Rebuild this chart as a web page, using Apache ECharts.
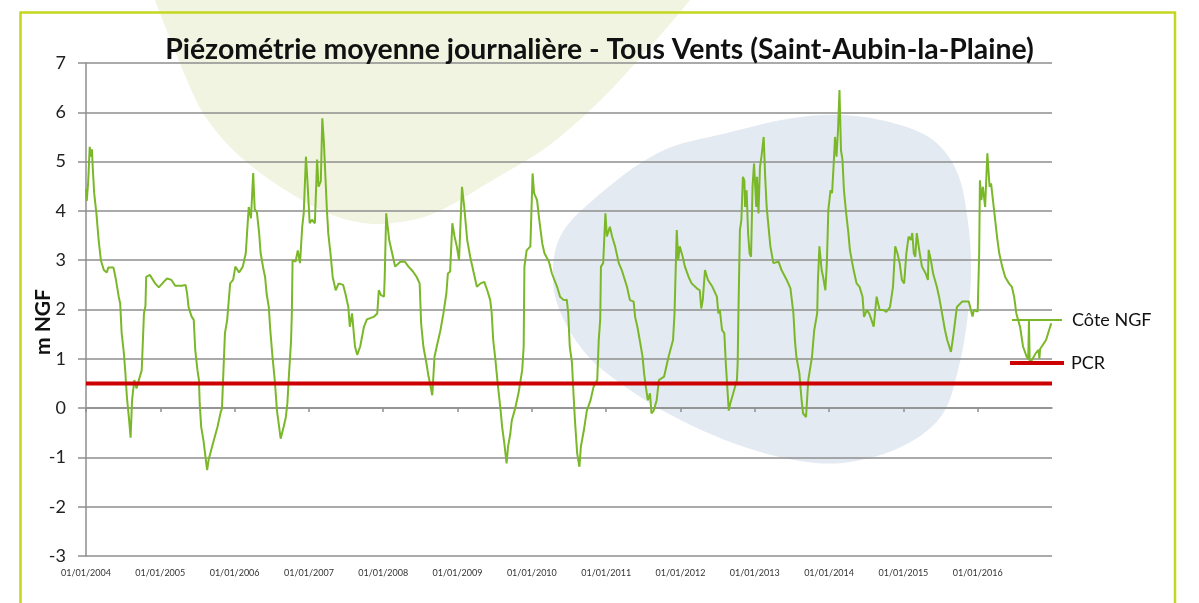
<!DOCTYPE html>
<html>
<head>
<meta charset="utf-8">
<script src="https://cdn.jsdelivr.net/npm/echarts@6/dist/echarts.min.js"></script>
<style>
  html, body { margin: 0; padding: 0; background: #fff; }
  #chart { width: 1199px; height: 603px; }
</style>
</head>
<body>
<div id="chart"></div>
<script>
// time as decimal years
const t = [
  2004.00, 2004.01, 2004.03, 2004.05, 2004.07, 2004.08, 2004.09, 2004.11, 2004.14, 2004.17,
  2004.20, 2004.24, 2004.28, 2004.30, 2004.37, 2004.40, 2004.44, 2004.46, 2004.48, 2004.51,
  2004.53, 2004.55, 2004.58, 2004.60, 2004.62, 2004.65, 2004.68, 2004.71, 2004.75, 2004.78,
  2004.80, 2004.81, 2004.83, 2004.86, 2004.93, 2004.98, 2005.04, 2005.09, 2005.15, 2005.20,
  2005.29, 2005.34, 2005.36, 2005.38, 2005.42, 2005.45, 2005.47, 2005.50, 2005.52, 2005.53,
  2005.55, 2005.58, 2005.63, 2005.65, 2005.72, 2005.77, 2005.81, 2005.83, 2005.85, 2005.87,
  2005.90, 2005.94, 2005.98, 2006.01, 2006.06, 2006.11, 2006.15, 2006.17, 2006.19, 2006.22,
  2006.25, 2006.27, 2006.30, 2006.33, 2006.35, 2006.39, 2006.41, 2006.43, 2006.46, 2006.48,
  2006.51, 2006.54, 2006.57, 2006.62, 2006.66, 2006.69, 2006.71, 2006.73, 2006.76, 2006.77,
  2006.78, 2006.82, 2006.85, 2006.88, 2006.91, 2006.93, 2006.96, 2006.98, 2007.01, 2007.04,
  2007.08, 2007.11, 2007.13, 2007.16, 2007.18, 2007.20, 2007.22, 2007.24, 2007.26, 2007.29,
  2007.32, 2007.36, 2007.40, 2007.46, 2007.49, 2007.53, 2007.55, 2007.58, 2007.62, 2007.65,
  2007.69, 2007.74, 2007.78, 2007.87, 2007.92, 2007.94, 2007.97, 2008.01, 2008.02, 2008.04,
  2008.08, 2008.12, 2008.16, 2008.23, 2008.29, 2008.34, 2008.40, 2008.45, 2008.49, 2008.51,
  2008.54, 2008.58, 2008.61, 2008.63, 2008.66, 2008.69, 2008.72, 2008.77, 2008.81, 2008.85,
  2008.87, 2008.90, 2008.93, 2008.96, 2008.99, 2009.02, 2009.06, 2009.09, 2009.13, 2009.17,
  2009.22, 2009.26, 2009.31, 2009.36, 2009.40, 2009.44, 2009.46, 2009.48, 2009.51, 2009.54,
  2009.58, 2009.60, 2009.63, 2009.66, 2009.68, 2009.71, 2009.73, 2009.78, 2009.82, 2009.87,
  2009.89, 2009.90, 2009.93, 2009.98, 2010.01, 2010.03, 2010.07, 2010.10, 2010.14, 2010.17,
  2010.23, 2010.27, 2010.34, 2010.38, 2010.43, 2010.47, 2010.49, 2010.51, 2010.54, 2010.56,
  2010.58, 2010.61, 2010.64, 2010.66, 2010.70, 2010.74, 2010.79, 2010.83, 2010.88, 2010.90,
  2010.92, 2010.93, 2010.96, 2010.99, 2011.01, 2011.05, 2011.08, 2011.12, 2011.17, 2011.21,
  2011.28, 2011.32, 2011.37, 2011.39, 2011.42, 2011.46, 2011.49, 2011.51, 2011.54, 2011.56,
  2011.59, 2011.61, 2011.64, 2011.68, 2011.71, 2011.78, 2011.84, 2011.90, 2011.92, 2011.95,
  2011.97, 2011.99, 2012.03, 2012.06, 2012.11, 2012.15, 2012.22, 2012.26, 2012.28, 2012.30,
  2012.33, 2012.37, 2012.43, 2012.49, 2012.51, 2012.53, 2012.56, 2012.59, 2012.61, 2012.63,
  2012.65, 2012.67, 2012.71, 2012.76, 2012.77, 2012.78, 2012.80, 2012.82, 2012.84, 2012.86,
  2012.87, 2012.89, 2012.91, 2012.93, 2012.95, 2012.97, 2012.99, 2013.02, 2013.03, 2013.05,
  2013.07, 2013.09, 2013.12, 2013.14, 2013.16, 2013.21, 2013.25, 2013.32, 2013.36, 2013.43,
  2013.48, 2013.52, 2013.54, 2013.56, 2013.60, 2013.63, 2013.65, 2013.69, 2013.72, 2013.77,
  2013.80, 2013.84, 2013.85, 2013.87, 2013.90, 2013.92, 2013.95, 2013.97, 2013.99, 2014.02,
  2014.04, 2014.06, 2014.08, 2014.10, 2014.12, 2014.14, 2014.16, 2014.18, 2014.20, 2014.23,
  2014.26, 2014.28, 2014.33, 2014.37, 2014.41, 2014.45, 2014.47, 2014.51, 2014.54, 2014.57,
  2014.60, 2014.64, 2014.68, 2014.73, 2014.77, 2014.82, 2014.86, 2014.89, 2014.92, 2014.95,
  2014.98, 2015.01, 2015.04, 2015.07, 2015.10, 2015.12, 2015.14, 2015.16, 2015.18, 2015.22,
  2015.25, 2015.30, 2015.33, 2015.34, 2015.37, 2015.40, 2015.45, 2015.48, 2015.52, 2015.56,
  2015.59, 2015.64, 2015.67, 2015.72, 2015.79, 2015.88, 2015.93, 2015.95, 2016.00, 2016.02,
  2016.03, 2016.05, 2016.07, 2016.10, 2016.13, 2016.16, 2016.18, 2016.22, 2016.26, 2016.29,
  2016.33, 2016.37, 2016.42, 2016.46, 2016.49, 2016.52, 2016.57, 2016.61, 2016.66, 2016.68,
  2016.69, 2016.70, 2016.74, 2016.78, 2016.82, 2016.83, 2016.84, 2016.92, 2016.96, 2016.99
];

// m NGF
const cote = [
  4.45, 4.20, 4.60, 5.30, 5.10, 5.25, 4.90, 4.36, 3.95, 3.41,
  3.00, 2.80, 2.75, 2.85, 2.85, 2.63, 2.26, 2.12, 1.52, 1.11,
  0.71, 0.23, -0.24, -0.60, 0.16, 0.57, 0.40, 0.56, 0.77, 1.92,
  2.07, 2.66, 2.70, 2.70, 2.53, 2.45, 2.55, 2.63, 2.60, 2.48,
  2.48, 2.50, 2.33, 2.05, 1.86, 1.79, 1.18, 0.77, 0.57, 0.10,
  -0.38, -0.65, -1.26, -1.05, -0.65, -0.38, -0.10, 0.00, 0.77, 1.52,
  1.79, 2.53, 2.60, 2.87, 2.75, 2.87, 3.14, 3.61, 4.08, 3.85,
  4.77, 4.04, 3.97, 3.55, 3.14, 2.80, 2.66, 2.33, 2.05, 1.58,
  1.04, 0.57, -0.05, -0.62, -0.38, -0.18, 0.10, 0.64, 1.38, 1.92,
  3.00, 2.97, 3.20, 2.94, 3.68, 3.95, 5.10, 4.60, 3.75, 3.82,
  3.75, 5.04, 4.49, 4.60, 5.88, 5.43, 4.76, 4.08, 3.55, 3.14,
  2.66, 2.39, 2.53, 2.50, 2.33, 2.05, 1.65, 1.92, 1.25, 1.08,
  1.25, 1.65, 1.80, 1.85, 1.92, 2.39, 2.29, 2.26, 2.66, 3.95,
  3.41, 3.14, 2.87, 2.97, 2.97, 2.87, 2.77, 2.66, 2.53, 1.72,
  1.25, 0.92, 0.64, 0.50, 0.26, 1.04, 1.25, 1.58, 1.92, 2.33,
  2.73, 2.77, 3.75, 3.48, 3.28, 3.00, 4.49, 4.08, 3.41, 3.07,
  2.73, 2.46, 2.53, 2.56, 2.39, 2.19, 1.92, 1.38, 0.98, 0.50,
  -0.05, -0.38, -0.72, -1.12, -0.78, -0.52, -0.25, 0.02, 0.30, 0.77,
  1.25, 2.87, 3.20, 3.28, 4.76, 4.36, 4.22, 3.82, 3.34, 3.14,
  2.97, 2.73, 2.46, 2.26, 2.19, 2.20, 1.92, 1.25, 0.92, 0.30,
  -0.25, -0.92, -1.19, -0.78, -0.45, -0.05, 0.16, 0.43, 0.57, 1.38,
  1.79, 2.87, 2.94, 3.95, 3.48, 3.68, 3.48, 3.28, 2.94, 2.80,
  2.46, 2.19, 2.16, 1.85, 1.65, 1.31, 1.04, 0.71, 0.37, 0.16,
  0.30, -0.11, -0.05, 0.16, 0.57, 0.64, 1.04, 1.38, 1.92, 3.61,
  3.00, 3.28, 3.07, 2.87, 2.66, 2.53, 2.43, 2.39, 2.02, 2.19,
  2.80, 2.60, 2.46, 2.26, 1.92, 1.99, 1.58, 1.52, 0.92, 0.43,
  -0.05, 0.09, 0.30, 0.57, 0.92, 1.92, 3.61, 3.82, 4.69, 4.62,
  4.08, 4.42, 3.55, 3.14, 3.07, 4.49, 4.96, 4.08, 4.69, 3.95,
  4.89, 5.10, 5.50, 4.69, 4.08, 3.28, 2.94, 2.97, 2.80, 2.60,
  2.43, 1.92, 1.38, 1.04, 0.71, 0.16, -0.11, -0.18, 0.57, 1.04,
  1.58, 1.92, 2.60, 3.28, 2.80, 2.66, 2.39, 2.94, 4.02, 4.42,
  4.36, 4.89, 5.50, 5.10, 5.63, 6.45, 5.23, 5.04, 4.42, 3.95,
  3.55, 3.21, 2.80, 2.53, 2.46, 2.26, 1.85, 1.99, 1.92, 1.79,
  1.65, 2.26, 1.99, 1.99, 1.95, 2.05, 2.46, 3.28, 3.14, 2.94,
  2.60, 2.53, 3.14, 3.48, 3.41, 3.55, 3.14, 3.07, 3.55, 3.14,
  2.87, 2.73, 2.60, 3.21, 3.00, 2.73, 2.46, 2.26, 1.92, 1.58,
  1.38, 1.14, 1.45, 2.05, 2.16, 2.16, 1.86, 1.99, 1.96, 3.14,
  4.62, 4.22, 4.49, 4.08, 5.17, 4.49, 4.56, 4.02, 3.48, 3.14,
  2.87, 2.66, 2.53, 2.46, 2.26, 1.92, 1.65, 1.25, 1.04, 0.99,
  1.78, 0.92, 1.00, 1.11, 1.18, 1.00, 1.20, 1.38, 1.58, 1.72
];

const pcrLevel = 0.5;
const yearStart = 2004;
const yearEnd = 2017;

const GREEN = "#7ab829";
const RED = "#cc0000";
const GRID_GREY = "#8e8e8e";
const FONT = "Lato";

const chart = echarts.init(document.getElementById("chart"));

const option = {
  animation: false,
  backgroundColor: "#fff",
  title: {
    text: "Piézométrie moyenne journalière - Tous Vents (Saint-Aubin-la-Plaine)",
    left: "center",
    top: 31,
    textStyle: { fontFamily: FONT, fontSize: 28.4, fontWeight: "bold", color: "#111" },
  },
  grid: { left: 86, right: 147, top: 63, bottom: 47 },
  legend: [
    {
      data: ["Côte NGF"],
      orient: "vertical",
      left: 1012,
      top: 311,
      padding: 0,
      icon: "rect",
      itemWidth: 50,
      itemHeight: 2,
      textStyle: { fontFamily: FONT, fontSize: 18, color: "#111", padding: [0, 0, 0, 5] },
    },
    {
      data: ["PCR"],
      orient: "vertical",
      left: 1010,
      top: 354,
      padding: 0,
      icon: "rect",
      itemWidth: 54,
      itemHeight: 4,
      textStyle: { fontFamily: FONT, fontSize: 18, color: "#111", padding: [0, 0, 0, 2] },
    },
  ],
  xAxis: {
    type: "value",
    min: yearStart,
    max: yearEnd,
    interval: 1,
    axisLine: { lineStyle: { color: GRID_GREY, width: 1.5 } },
    axisTick: { show: true, length: 4, lineStyle: { color: GRID_GREY, width: 1.5 } },
    splitLine: { show: false },
    axisLabel: {
      margin: 13,
      fontFamily: FONT,
      fontSize: 9,
      color: "#333",
      showMaxLabel: false,
      formatter: (v) => (v < yearEnd ? "01/01/" + v : ""),
    },
  },
  yAxis: {
    type: "value",
    min: -3,
    max: 7,
    interval: 1,
    axisLine: { show: true, lineStyle: { color: GRID_GREY, width: 1.5 } },
    axisTick: { show: true, inside: false, length: 8, lineStyle: { color: GRID_GREY, width: 1.5 } },
    splitLine: { show: true, lineStyle: { color: GRID_GREY, width: 1.5 } },
    axisLabel: { margin: 20, fontFamily: FONT, fontSize: 18, color: "#222" },
  },
  graphic: [
    {
      // pale green blob, top left
      type: "polygon",
      z: -10,
      silent: true,
      shape: {
        smooth: 0.3,
        points: [
          [150, -20], [155, 0], [187, 80], [203, 113], [230, 147], [270, 180],
          [327, 213], [375, 224], [430, 215], [493, 180], [547, 147], [587, 113],
          [620, 80], [690, 0], [700, -20],
        ],
      },
      style: { fill: "#f1f4e1" },
    },
    {
      // pale blue blob, right
      type: "polygon",
      z: -10,
      silent: true,
      shape: {
        smooth: 0.35,
        points: [
          [553, 280], [560, 237], [593, 200], [660, 152], [727, 133], [793, 118],
          [843, 115], [893, 123], [933, 140], [957, 172], [968, 222], [971, 272],
          [967, 322], [958, 370], [942, 415], [905, 445], [850, 462], [800, 461],
          [733, 443], [667, 413], [620, 383], [587, 355], [562, 316],
        ],
      },
      style: { fill: "#e4eaf1" },
    },
    {
      type: "rect",
      z: 50,
      silent: true,
      shape: { x: 20.5, y: 12.5, width: 1154.5, height: 640 },
      style: { fill: "none", stroke: "#c4d61f", lineWidth: 2.5 },
    },
    {
      // y axis title
      type: "text",
      x: 43,
      y: 322,
      rotation: Math.PI / 2,
      silent: true,
      style: {
        text: "m NGF",
        fontFamily: FONT,
        fontSize: 21,
        fontWeight: "bold",
        fill: "#111",
        align: "center",
        verticalAlign: "middle",
      },
    },
  ],
  series: [
    {
      name: "Côte NGF",
      type: "line",
      data: t.map((x, i) => [x, cote[i]]),
      showSymbol: false,
      symbol: "none",
      lineStyle: { color: GREEN, width: 2 },
      itemStyle: { color: GREEN },
      z: 3,
    },
    {
      name: "PCR",
      type: "line",
      data: [
        [yearStart, pcrLevel],
        [yearEnd, pcrLevel],
      ],
      showSymbol: false,
      symbol: "none",
      lineStyle: { color: RED, width: 4 },
      itemStyle: { color: RED },
      z: 4,
    },
  ],
};

chart.setOption(option);
</script>
</body>
</html>
